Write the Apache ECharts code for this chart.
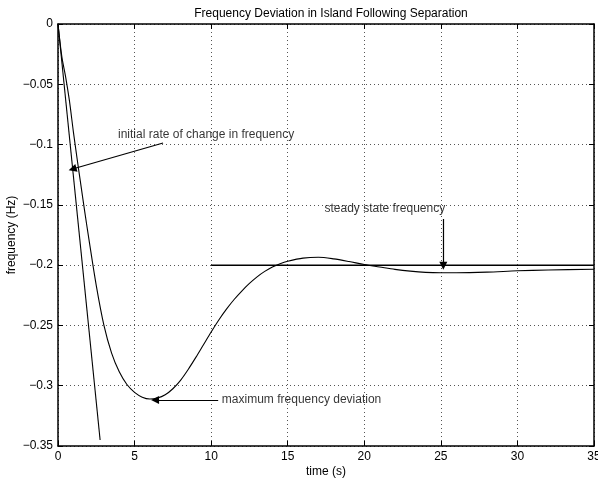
<!DOCTYPE html>
<html>
<head>
<meta charset="utf-8">
<script src="https://cdn.jsdelivr.net/npm/echarts@6/dist/echarts.min.js"></script>
<style>html,body{margin:0;padding:0;background:#fff;}#c{width:598px;height:481px;}</style>
</head>
<body>
<div id="c"></div>
<script>
// Response curve (time s, frequency deviation Hz)
var timeS = [0, 0.25, 0.5, 0.75, 1.0, 1.25, 1.5, 1.75, 2.0, 2.5, 3.0, 3.5, 4.0, 4.5, 5.0, 5.5, 6.0, 6.5, 7.0, 7.5, 8.0, 8.5, 9.0, 9.5, 10.0, 10.5, 11.0, 11.5, 12.0, 12.5, 13.0, 13.5, 14.0, 14.5, 15.0, 16.0, 17.0, 18.0, 19.0, 20.0, 21.0, 22.0, 23.0, 24.0, 25.0, 26.0, 28.0, 30.0, 32.0, 35.0];
var freqHz = [0, -0.027, -0.044, -0.064, -0.089, -0.112, -0.134, -0.156, -0.177, -0.217, -0.25, -0.273, -0.2885, -0.299, -0.3055, -0.3095, -0.311, -0.3102, -0.3075, -0.3025, -0.2955, -0.2865, -0.2765, -0.266, -0.2555, -0.2455, -0.2365, -0.2285, -0.2215, -0.2152, -0.2097, -0.2052, -0.2015, -0.1988, -0.1968, -0.1942, -0.1935, -0.1948, -0.197, -0.1995, -0.2015, -0.2035, -0.205, -0.206, -0.2063, -0.2063, -0.2058, -0.2047, -0.204, -0.2034];
// Initial rate-of-change tangent line
var tangentT = [0, 2.75];
var tangentF = [0, -0.345];
// Steady-state frequency line
var steadyT = [10, 35];
var steadyF = [-0.2, -0.2];
// Annotations: text and arrow [fromT, fromF, toT, toF]
var annTexts = ['initial rate of change in frequency', 'maximum frequency deviation', 'steady state frequency'];
var annTextPos = [[3.92, -0.092], [10.7, -0.312], [17.4, -0.153]];
var annArrows = [[6.86, -0.0987, 0.95, -0.1203], [10.46, -0.3118, 6.34, -0.3118], [25.16, -0.1617, 25.16, -0.2005]];
var xTicks = [0, 5, 10, 15, 20, 25, 30, 35];
var yTicks = [0, -0.05, -0.1, -0.15, -0.2, -0.25, -0.3, -0.35];

var FONT = 'Liberation Sans, Arial, Helvetica, sans-serif';
function zip(a, b) { return a.map(function (v, i) { return [v, b[i]]; }); }
function fmtY(v) {
  var s = String(Math.round(v * 1000) / 1000);
  return s.replace('-', '\u2212');
}

var chart = echarts.init(document.getElementById('c'), null, {renderer: 'canvas'});
var gridLine = {show: true, lineStyle: {color: '#555', width: 1, type: [1, 3]}};
var tickIn = {show: true, inside: true, length: 5, lineStyle: {color: '#000', width: 1}};
var axLine = {show: true, onZero: false, lineStyle: {color: '#000', width: 1.5}};

var option = {
  animation: false,
  backgroundColor: '#fff',
  title: {
    text: 'Frequency Deviation in Island Following Separation',
    left: 326, top: 3, textAlign: 'center',
    textStyle: {fontFamily: FONT, fontSize: 12, fontWeight: 'normal', color: '#000'}
  },
  grid: {left: 58, top: 24, right: 4, bottom: 35, containLabel: false, outerBoundsMode: 'none'},
  xAxis: [{
    type: 'value', min: xTicks[0], max: xTicks[xTicks.length - 1], interval: 5,
    position: 'bottom',
    name: 'time (s)', nameLocation: 'middle', nameGap: 20, nameMoveOverlap: false,
    nameTextStyle: {fontFamily: FONT, fontSize: 12, color: '#000'},
    axisLine: axLine, axisTick: tickIn,
    axisLabel: {fontFamily: FONT, fontSize: 12, color: '#000', margin: 5},
    splitLine: gridLine
  }, {
    type: 'value', min: xTicks[0], max: xTicks[xTicks.length - 1], interval: 5,
    position: 'top', axisLine: axLine, axisTick: tickIn,
    axisLabel: {show: false}, splitLine: {show: false}
  }],
  yAxis: [{
    type: 'value', min: yTicks[yTicks.length - 1], max: yTicks[0], interval: 0.05,
    position: 'left',
    name: 'frequency (Hz)', nameLocation: 'middle', nameGap: 40, nameMoveOverlap: false,
    nameTextStyle: {fontFamily: FONT, fontSize: 12, color: '#000'},
    axisLine: axLine, axisTick: tickIn,
    axisLabel: {fontFamily: FONT, fontSize: 12, color: '#000', margin: 5, formatter: fmtY},
    splitLine: gridLine
  }, {
    type: 'value', min: yTicks[yTicks.length - 1], max: yTicks[0], interval: 0.05,
    position: 'right', axisLine: axLine, axisTick: tickIn,
    axisLabel: {show: false}, splitLine: {show: false}
  }],
  series: [{
    type: 'line', data: zip(timeS, freqHz), smooth: 0.3, showSymbol: false,
    lineStyle: {color: '#000', width: 1.1}, z: 5
  }, {
    type: 'line', data: zip(tangentT, tangentF), showSymbol: false,
    lineStyle: {color: '#000', width: 1.1}, z: 5
  }, {
    type: 'line', data: zip(steadyT, steadyF), showSymbol: false,
    lineStyle: {color: '#000', width: 1.5}, z: 5
  }, {
    type: 'lines', coordinateSystem: 'cartesian2d', z: 6,
    symbol: ['none', 'triangle'], symbolSize: [0, 8],
    lineStyle: {color: '#000', width: 1.2, opacity: 1, curveness: 0},
    data: annArrows.map(function (a) { return {coords: [[a[0], a[1]], [a[2], a[3]]]}; })
  }, {
    type: 'scatter', symbolSize: 0, z: 7,
    data: annTextPos.map(function (p, i) {
      return {value: p, label: {show: true, position: 'right', distance: 0, formatter: annTexts[i],
        fontFamily: FONT, fontSize: 12, color: '#000'}};
    })
  }]
};
chart.setOption(option);
</script>
</body>
</html>
